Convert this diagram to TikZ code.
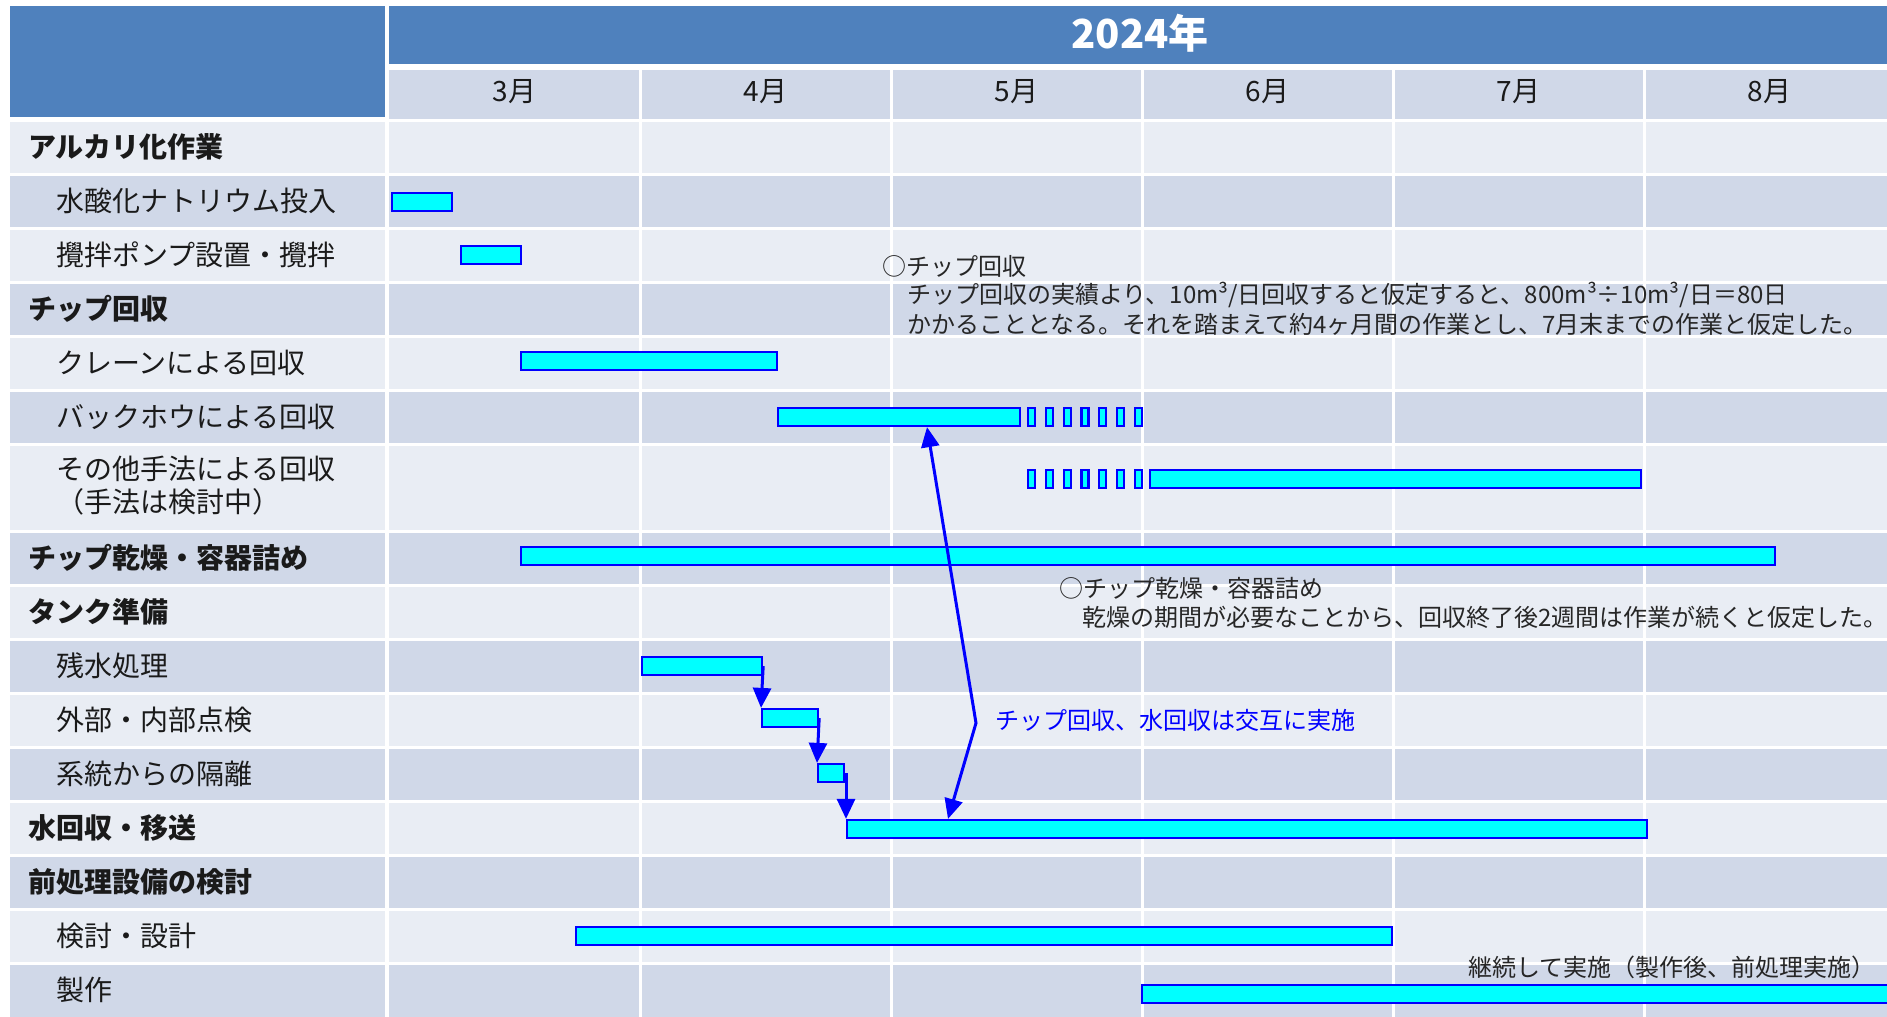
\documentclass[tikz,border=0pt]{standalone}
\usepackage{fontspec}
\setmainfont{Noto Sans CJK JP}
\usetikzlibrary{arrows.meta}
\definecolor{hdr}{HTML}{4F81BD}
\definecolor{rowA}{HTML}{E9EDF4}
\definecolor{rowB}{HTML}{D0D8E8}
\definecolor{barfill}{HTML}{00FFFF}
\definecolor{barline}{HTML}{0000FF}
\definecolor{txt}{HTML}{1A1A1A}
\definecolor{notetxt}{HTML}{262626}
\begin{document}
\begin{tikzpicture}[x=1pt,y=-1pt,
  lbl/.style={anchor=west, inner sep=0pt, font=\fontsize{28}{33}\selectfont, text=txt},
  cat/.style={anchor=west, inner sep=0pt, font=\fontsize{28}{33}\selectfont\bfseries, text=txt},
  month/.style={inner sep=0pt, font=\fontsize{28}{32}\selectfont, text=txt},
  bar/.style={draw=barline, fill=barfill, line width=2.2pt, minimum height=18pt, inner sep=0pt, anchor=west},
  note/.style={anchor=west, inner sep=0pt, font=\fontsize{24}{29}\selectfont, text=notetxt},
  tip/.tip={Triangle[length=20pt 0 0,width=18pt 0 0]},
  arr/.style={draw=barline, line width=3pt, -tip},
  arrtwo/.style={draw=barline, line width=3pt, tip-tip}
]
\useasboundingbox (0,0) rectangle (1887,1017);
\fill[white] (0,0) rectangle (1887,1017);

% headers
\fill[hdr] (10,6) rectangle (385,117);
\fill[hdr] (389,6) rectangle (1887,64);
\fill[rowB] (389,70) rectangle (1887,119);
\node[inner sep=0pt, font=\fontsize{40}{44}\selectfont\bfseries, text=white] (year) at (1140,33) {2024年};

% rows
\foreach \t/\b/\c in {120/174/rowA,174/228/rowB,228/282/rowA,282/336/rowB,336/390/rowA,390/444/rowB,444/531/rowA,531/585/rowB,585/639/rowA,639/693/rowB,693/747/rowA,747/801/rowB,801/855/rowA,855/909/rowB,909/963/rowA,963/1017/rowB}
  \fill[\c] (10,\t) rectangle (1887,\b);
\foreach \y in {120,174,228,282,336,390,444,531,585,639,693,747,801,855,909,963}
  \draw[white, line width=3pt] (10,\y) -- (1887,\y);
\draw[white, line width=4pt] (387,118) -- (387,1017);
\foreach \x in {640,891,1142,1393,1644}
  \draw[white, line width=3pt] (\x,70) -- (\x,1017);

% months
\node[month] (m3) at (514.5,92) {3月};
\node[month] (m4) at (765.5,92) {4月};
\node[month] (m5) at (1016.5,92) {5月};
\node[month] (m6) at (1267.5,92) {6月};
\node[month] (m7) at (1518.5,92) {7月};
\node[month] (m8) at (1769.5,92) {8月};

% labels
\node[cat] (l1) at (28,147) {アルカリ化作業};
\node[lbl] (l2) at (56,201) {水酸化ナトリウム投入};
\node[lbl] (l3) at (56,255) {攪拌ポンプ設置・攪拌};
\node[cat] (l4) at (28,309) {チップ回収};
\node[lbl] (l5) at (56,363) {クレーンによる回収};
\node[lbl] (l6) at (56,417) {バックホウによる回収};
\node[lbl] (l7a) at (56,469) {その他手法による回収};
\node[lbl] (l7b) at (56,502) {（手法は検討中）};
\node[cat] (l8) at (28,558) {チップ乾燥・容器詰め};
\node[cat] (l9) at (28,612) {タンク準備};
\node[lbl] (l10) at (56,666) {残水処理};
\node[lbl] (l11) at (56,720) {外部・内部点検};
\node[lbl] (l12) at (56,774) {系統からの隔離};
\node[cat] (l13) at (28,828) {水回収・移送};
\node[cat] (l14) at (28,882) {前処理設備の検討};
\node[lbl] (l15) at (56,936) {検討・設計};
\node[lbl] (l16) at (56,990) {製作};

% bars
\node[bar, minimum width=60pt] (b2) at (391,202) {};
\node[bar, minimum width=60pt] (b3) at (460,255) {};
\node[bar, minimum width=256pt] (b5) at (520,361) {};
\node[bar, minimum width=242pt] (b6) at (777,417) {};
\foreach \i in {0,...,6} {
  \node[bar, minimum width=7pt] (d6\i) at (1027+17.8*\i,417) {};
  \node[bar, minimum width=7pt] (d7\i) at (1027+17.8*\i,479) {};
}
\node[bar, minimum width=491pt] (b7) at (1149,479) {};
\node[bar, minimum width=1254pt] (b8) at (520,556) {};
\node[bar, minimum width=120pt] (b10) at (641,666) {};
\node[bar, minimum width=56pt] (b11) at (761,718) {};
\node[bar, minimum width=26pt] (b12) at (817,773) {};
\node[bar, minimum width=800pt] (b13) at (846,829) {};
\node[bar, minimum width=816pt] (b15) at (575,936) {};
\node[bar, minimum width=752pt] (b16) at (1141,994) {};

% notes
\node[note] (n1) at (882,266) {○チップ回収};
\node[note] (n2) at (907,295) {チップ回収の実績より、10m³/日回収すると仮定すると、800m³÷10m³/日＝80日};
\node[note] (n3) at (907,324) {かかることとなる。それを踏まえて約4ヶ月間の作業とし、7月末までの作業と仮定した。};
\node[note] (n4) at (1059,588) {○チップ乾燥・容器詰め};
\node[note] (n5) at (1082,617) {乾燥の期間が必要なことから、回収終了後2週間は作業が続くと仮定した。};
\node[note, text=barline] (n6) at (995,720) {チップ回収、水回収は交互に実施};
\node[note] (n7) at (1468,967) {継続して実施（製作後、前処理実施）};

% connectors
\draw[arr] (b10.east) -- (b11.north west);
\draw[arr] (b11.east) -- (b12.north west);
\draw[arr] (b12.east -| b13.north west) -- (b13.north west);
\path (b6.south west) ++(150,0) coordinate (a6);
\path (b13.north west) ++(102,0) coordinate (a13);
\coordinate (k) at (976,723);
\draw[arrtwo] (a6) -- (k) -- (a13);
\end{tikzpicture}
\end{document}
